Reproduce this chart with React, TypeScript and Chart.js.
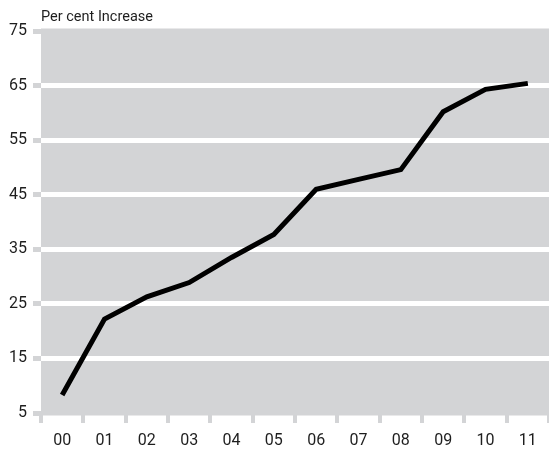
import React, { useEffect, useRef } from "react";
import { Chart, registerables } from "chart.js";

Chart.register(...registerables);

const categories = ["00", "01", "02", "03", "04", "05", "06", "07", "08", "09", "10", "11"];
const values = [8.3, 22.2, 26.3, 28.9, 33.5, 37.7, 46.0, 47.8, 49.6, 60.2, 64.3, 65.4];
const yTickValues = [5, 15, 25, 35, 45, 55, 65, 75];
const axisTitle = "Per cent Increase";

const GREY = "#d3d4d6";
const TEXT = "#1e1e1e";
const FONT = "Roboto, 'DejaVu Sans', sans-serif";

const bgPlugin = {
  id: "plotBg",
  beforeDraw(chart: any) {
    const { ctx, chartArea } = chart;
    ctx.save();
    ctx.fillStyle = GREY;
    ctx.fillRect(chartArea.left, chartArea.top - 2.5, chartArea.right - chartArea.left, chartArea.bottom - chartArea.top + 5);
    ctx.restore();
  },
  afterDraw(chart: any) {
    const { ctx, chartArea } = chart;
    ctx.save();
    ctx.fillStyle = TEXT;
    ctx.font = `14.5px ${FONT}`;
    ctx.textBaseline = "middle";
    ctx.textAlign = "left";
    ctx.fillText(axisTitle, chartArea.left, 17);
    ctx.restore();
  },
};

export default function App() {
  const ref = useRef<HTMLCanvasElement | null>(null);

  useEffect(() => {
    if (!ref.current) return;
    const chart = new Chart(ref.current, {
      type: "line",
      data: {
        labels: categories,
        datasets: [
          {
            data: values,
            borderColor: "#000000",
            borderWidth: 5,
            pointRadius: 0,
            tension: 0,
            fill: false,
          },
        ],
      },
      options: {
        animation: false,
        responsive: false,
        devicePixelRatio: 1,
        layout: { padding: { top: 31, left: 0, right: 0, bottom: 0 } },
        plugins: { legend: { display: false }, tooltip: { enabled: false }, title: { display: false } },
        scales: {
          x: {
            type: "category",
            offset: true,
            border: { display: false },
            grid: {
              offset: true,
              drawOnChartArea: false,
              drawTicks: true,
              tickLength: 10,
              tickWidth: 4,
              tickColor: GREY,
              lineWidth: 4,
            },
            ticks: {
              color: TEXT,
              font: { family: FONT, size: 16 },
              padding: 8,
              maxRotation: 0,
              autoSkip: false,
            },
            afterFit(scale: any) {
              scale.height = 38;
              scale.paddingLeft = 0;
              scale.paddingRight = 0;
            },
          },
          y: {
            min: 5,
            max: 75,
            border: { display: false },
            afterBuildTicks(scale: any) {
              scale.ticks = yTickValues.map((v) => ({ value: v }));
            },
            grid: {
              color: (ctx: any) =>
                ctx.tick && (ctx.tick.value === 5 || ctx.tick.value === 75) ? "rgba(0,0,0,0)" : "#ffffff",
              lineWidth: 5,
              drawTicks: true,
              tickLength: 8,
              tickWidth: 5,
              tickColor: GREY,
            },
            ticks: {
              color: TEXT,
              font: { family: FONT, size: 16 },
              padding: 6,
            },
            afterFit(scale: any) {
              scale.width = 41;
            },
          },
        },
      },
      plugins: [bgPlugin],
    });
    return () => chart.destroy();
  }, []);

  return (
    <div style={{ position: "fixed", left: 0, top: 0, width: 549, height: 451, background: "#fff" }}>
      <canvas ref={ref} width={549} height={451} />
    </div>
  );
}
